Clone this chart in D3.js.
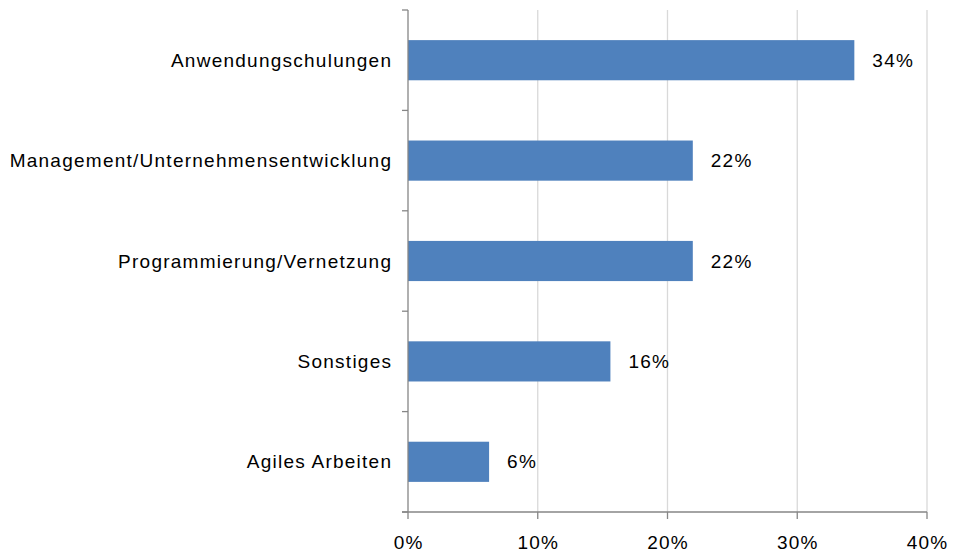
<!DOCTYPE html>
<html><head><meta charset="utf-8">
<script src="https://cdn.jsdelivr.net/npm/d3@7"></script>
<style>body{margin:0;background:#fff}svg{display:block}text{font-family:"Liberation Sans",Arial,sans-serif;fill:#000;letter-spacing:1.25px}</style>
</head><body>
<svg id="c" width="955" height="555"></svg>
<script>
const categories = ["Anwendungschulungen","Management/Unternehmensentwicklung","Programmierung/Vernetzung","Sonstiges","Agiles Arbeiten"];
const values = [34.4, 21.95, 21.95, 15.6, 6.25];
const labels = ["34%","22%","22%","16%","6%"];
const xTicks = [0,10,20,30,40];

const svg = d3.select("#c");
const L = 408, R = 927, T = 10, B = 512;
const LS = 1.25;
const x = d3.scaleLinear().domain([0,40]).range([L,R]);
const y = d3.scaleBand().domain(categories).range([T,B]).paddingInner(0.6).paddingOuter(0.3);

// gridlines
svg.append("g").selectAll("line").data(xTicks.slice(1)).join("line")
  .attr("x1", d=>x(d)).attr("x2", d=>x(d)).attr("y1", T).attr("y2", B)
  .attr("stroke", "#d9d9d9").attr("stroke-width", 1.3);

// bars
svg.append("g").selectAll("rect").data(categories).join("rect")
  .attr("x", x(0)).attr("y", d=>y(d)).attr("width", (d,i)=>x(values[i])-x(0))
  .attr("height", y.bandwidth()).attr("fill", "#4f81bd");

// value labels
svg.append("g").selectAll("text").data(categories).join("text")
  .attr("x", (d,i)=>x(values[i])+18).attr("y", d=>y(d)+y.bandwidth()/2)
  .attr("dy","0.35em").attr("font-size","19px").text((d,i)=>labels[i]);

// axes
const axisColor = "#868686";
svg.append("line").attr("x1",L).attr("x2",L).attr("y1",T).attr("y2",B).attr("stroke",axisColor).attr("stroke-width",1.3);
svg.append("line").attr("x1",L-6).attr("x2",R).attr("y1",B).attr("y2",B).attr("stroke",axisColor).attr("stroke-width",1.3);
const yBounds = d3.range(categories.length+1).map(i=>T + i*(B-T)/categories.length);
svg.append("g").selectAll("line").data(yBounds).join("line")
  .attr("x1",L-6).attr("x2",L).attr("y1",d=>d).attr("y2",d=>d).attr("stroke",axisColor).attr("stroke-width",1.3);
svg.append("g").selectAll("line").data(xTicks).join("line")
  .attr("x1",d=>x(d)).attr("x2",d=>x(d)).attr("y1",B).attr("y2",B+7).attr("stroke",axisColor).attr("stroke-width",1.3);
svg.append("g").selectAll("text").data(xTicks).join("text")
  .attr("x",d=>x(d)+LS/2).attr("y",B+37).attr("text-anchor","middle").attr("font-size","19px").text(d=>d+"%");
// category labels
svg.append("g").selectAll("text").data(categories).join("text")
  .attr("x", L-17+LS).attr("y", d=>y(d)+y.bandwidth()/2).attr("dy","0.35em")
  .attr("text-anchor","end").attr("font-size","19px").text(d=>d);
</script>
</body></html>
